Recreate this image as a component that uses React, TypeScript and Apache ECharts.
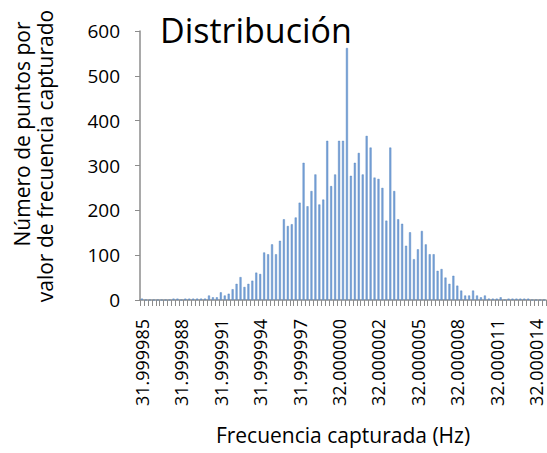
import React, { useEffect, useRef } from "react";
import * as echarts from "echarts";

// Histogram counts, one per captured-frequency bin (103 bins)
const counts: number[] = [
  3, 0, 0, 0, 0, 0, 0, 0, 3, 3,
  0, 3, 3, 3, 3, 3, 3, 10, 6, 6,
  17, 10, 14, 24, 36, 51, 29, 36, 43, 61,
  58, 106, 102, 124, 102, 132, 180, 165, 169, 184,
  217, 306, 209, 243, 280, 213, 224, 355, 254, 280,
  355, 355, 562, 277, 306, 328, 280, 366, 340, 273,
  270, 250, 177, 340, 243, 180, 170, 121, 151, 91,
  113, 154, 124, 102, 102, 65, 69, 50, 36, 54,
  32, 21, 10, 10, 21, 10, 6, 10, 3, 3,
  3, 6, 0, 3, 3, 3, 3, 3, 3, 0,
  0, 0, 0,
];

// Bin frequencies in units of 1e-8 Hz: start 31.999985 Hz, step 0.29e-6 Hz
const startE8 = 3199998500;
const stepE8 = 29;
const categories: string[] = counts.map((_, i) => {
  const micro = Math.round((startE8 + stepE8 * i) / 100);
  const s = String(micro);
  return s.slice(0, 2) + "." + s.slice(2);
});

const yTicks = { min: 0, max: 600, interval: 100 };
const titleText = "Distribución";
const yNameLines = ["Número de puntos por", "valor de frecuencia capturado"];
const xName = "Frecuencia capturada (Hz)";

const FONT = "Open Sans";

export default function App() {
  const ref = useRef<HTMLDivElement>(null);
  useEffect(() => {
    document.body.style.margin = "0";
    const chart = echarts.init(ref.current!, null, { renderer: "svg" });
    chart.setOption({
      animation: false,
      backgroundColor: "#ffffff",
      textStyle: { fontFamily: FONT },
      grid: { left: 140, right: 1, top: 31, bottom: 153, containLabel: false },
      xAxis: {
        type: "category",
        data: categories,
        boundaryGap: true,
        axisLine: { show: true, lineStyle: { color: "#8c8c8c", width: 1.5 } },
        axisTick: { show: true, interval: 0, length: 6, lineStyle: { color: "#8c8c8c", width: 1 } },
        axisLabel: { interval: 9, rotate: 90, fontSize: 18, color: "#000", margin: 19, fontFamily: FONT },
        splitLine: { show: false },
        name: xName,
        nameLocation: "middle",
        nameGap: 124,
        nameTextStyle: { fontSize: 21, color: "#000", fontFamily: FONT },
      },
      yAxis: {
        type: "value",
        min: yTicks.min,
        max: yTicks.max,
        interval: yTicks.interval,
        axisLine: { show: true, lineStyle: { color: "#8c8c8c", width: 1.5 } },
        axisTick: { show: true, length: 5, lineStyle: { color: "#8c8c8c" } },
        splitLine: { show: false },
        axisLabel: { fontSize: 19, color: "#000", margin: 20, fontFamily: FONT },
      },
      series: [
        {
          type: "bar",
          data: counts,
          barWidth: 2,
          itemStyle: { color: "#7aa2d8", borderColor: "#4a7ebb", borderWidth: 0.4 },
        },
      ],
      graphic: [
        {
          type: "text",
          left: 160,
          top: 13,
          style: { text: titleText, fontSize: 34, fill: "#000", fontFamily: FONT },
        },
        {
          type: "text",
          x: 22,
          y: 134,
          rotation: Math.PI / 2,
          style: {
            text: yNameLines[0],
            fontSize: 21,
            fill: "#000",
            fontFamily: FONT,
            textAlign: "center",
            textVerticalAlign: "middle",
          },
        },
        {
          type: "text",
          x: 45,
          y: 156,
          rotation: Math.PI / 2,
          style: {
            text: yNameLines[1],
            fontSize: 21,
            fill: "#000",
            fontFamily: FONT,
            textAlign: "center",
            textVerticalAlign: "middle",
          },
        },
      ],
    });
    return () => chart.dispose();
  }, []);
  return (
    <div
      ref={ref}
      style={{ position: "fixed", left: 0, top: 0, width: 547, height: 453 }}
    />
  );
}
